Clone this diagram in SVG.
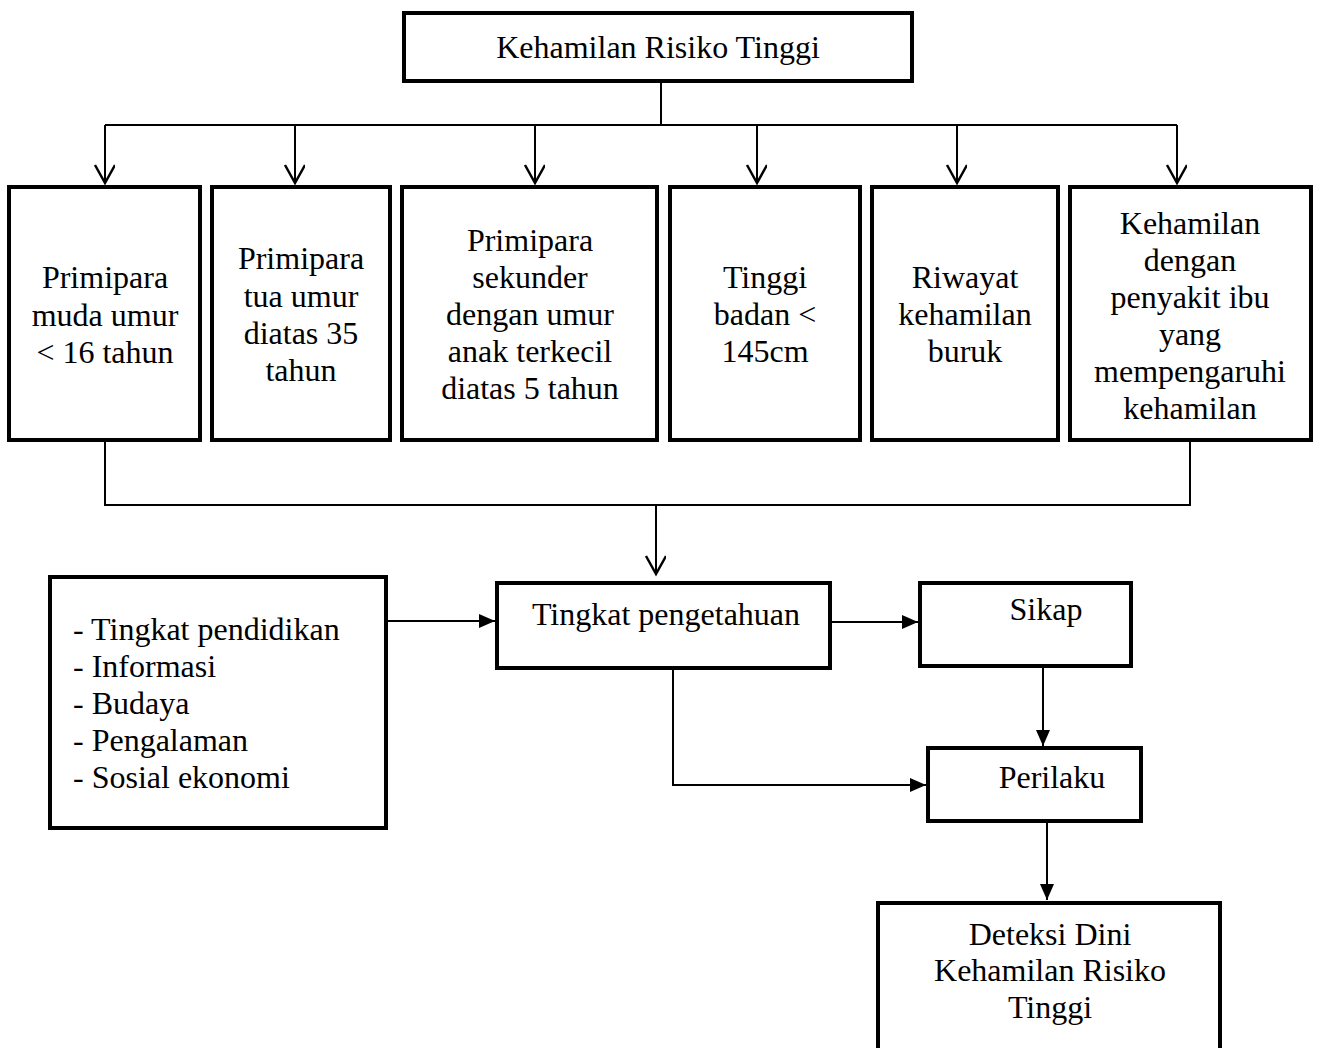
<svg xmlns="http://www.w3.org/2000/svg" width="1317" height="1048" viewBox="0 0 1317 1048">
<style>
.box{fill:#fff;stroke:#000;stroke-width:4}
.ln{fill:none;stroke:#000;stroke-width:2}
text{font-family:"Liberation Serif","Times New Roman",serif;font-size:32px;fill:#000}
.c{text-anchor:middle}
</style>
<defs>
<marker id="open" markerWidth="24" markerHeight="24" refX="20" refY="10" orient="auto" markerUnits="userSpaceOnUse">
<path d="M2,0 L20,10 L2,20" fill="none" stroke="#000" stroke-width="2.5"/>
</marker>
<marker id="fill" markerWidth="20" markerHeight="20" refX="16" refY="7" orient="auto" markerUnits="userSpaceOnUse">
<path d="M0,0 L16,7 L0,14 Z" fill="#000"/>
</marker>
</defs>
<rect width="1317" height="1048" fill="#fff"/>
<g id="connectors">
<path class="ln" d="M661,81 V125"/>
<path class="ln" d="M105,125 H1177"/>
<path class="ln" d="M105,125 V183" marker-end="url(#open)"/>
<path class="ln" d="M295,125 V183" marker-end="url(#open)"/>
<path class="ln" d="M535,125 V183" marker-end="url(#open)"/>
<path class="ln" d="M757,125 V183" marker-end="url(#open)"/>
<path class="ln" d="M957,125 V183" marker-end="url(#open)"/>
<path class="ln" d="M1177,125 V183" marker-end="url(#open)"/>
<path class="ln" d="M105,441 V505 H1190 V441"/>
<path class="ln" d="M656,505 V574" marker-end="url(#open)"/>
<path class="ln" d="M386,621 H495" marker-end="url(#fill)"/>
<path class="ln" d="M832,622 H918" marker-end="url(#fill)"/>
<path class="ln" d="M1043,668 V746" marker-end="url(#fill)"/>
<path class="ln" d="M673,670 V785 H926" marker-end="url(#fill)"/>
<path class="ln" d="M1047,823 V900" marker-end="url(#fill)"/>
</g>
<g id="n-top"><rect class="box" x="404" y="13" width="508" height="68"/><text class="c" x="658" y="58">Kehamilan Risiko Tinggi</text></g>
<g id="n-b1"><rect class="box" x="9" y="187" width="191" height="253"/>
<text class="c" x="105"><tspan x="105" y="288">Primipara</tspan><tspan x="105" y="326">muda umur</tspan><tspan x="105" y="363">&lt; 16 tahun</tspan></text></g>
<g id="n-b2"><rect class="box" x="212" y="187" width="178" height="253"/>
<text class="c" x="301"><tspan x="301" y="269">Primipara</tspan><tspan x="301" y="307">tua umur</tspan><tspan x="301" y="344">diatas 35</tspan><tspan x="301" y="381">tahun</tspan></text></g>
<g id="n-b3"><rect class="box" x="402" y="187" width="255" height="253"/>
<text class="c" x="530"><tspan x="530" y="251">Primipara</tspan><tspan x="530" y="288">sekunder</tspan><tspan x="530" y="325">dengan umur</tspan><tspan x="530" y="362">anak terkecil</tspan><tspan x="530" y="399">diatas 5 tahun</tspan></text></g>
<g id="n-b4"><rect class="box" x="670" y="187" width="190" height="253"/>
<text class="c" x="765"><tspan x="765" y="288">Tinggi</tspan><tspan x="765" y="325">badan &lt;</tspan><tspan x="765" y="362">145cm</tspan></text></g>
<g id="n-b5"><rect class="box" x="872" y="187" width="186" height="253"/>
<text class="c" x="965"><tspan x="965" y="288">Riwayat</tspan><tspan x="965" y="325">kehamilan</tspan><tspan x="965" y="362">buruk</tspan></text></g>
<g id="n-b6"><rect class="box" x="1070" y="187" width="241" height="253"/>
<text class="c" x="1190"><tspan x="1190" y="234">Kehamilan</tspan><tspan x="1190" y="271">dengan</tspan><tspan x="1190" y="308">penyakit ibu</tspan><tspan x="1190" y="345">yang</tspan><tspan x="1190" y="382">mempengaruhi</tspan><tspan x="1190" y="419">kehamilan</tspan></text></g>
<g id="n-factors"><rect class="box" x="50" y="577" width="336" height="251"/>
<text x="73"><tspan x="73" y="640">- Tingkat pendidikan</tspan><tspan x="73" y="677">- Informasi</tspan><tspan x="73" y="714">- Budaya</tspan><tspan x="73" y="751">- Pengalaman</tspan><tspan x="73" y="788">- Sosial ekonomi</tspan></text></g>
<g id="n-pengetahuan"><rect class="box" x="497" y="583" width="333" height="85"/><text class="c" x="666" y="625">Tingkat pengetahuan</text></g>
<g id="n-sikap"><rect class="box" x="920" y="583" width="211" height="83"/><text class="c" x="1046" y="620">Sikap</text></g>
<g id="n-perilaku"><rect class="box" x="928" y="748" width="213" height="73"/><text class="c" x="1052" y="788">Perilaku</text></g>
<g id="n-deteksi"><rect class="box" x="878" y="903" width="342" height="150"/>
<text class="c" x="1050"><tspan x="1050" y="945">Deteksi Dini</tspan><tspan x="1050" y="981">Kehamilan Risiko</tspan><tspan x="1050" y="1018">Tinggi</tspan></text></g>
</svg>
